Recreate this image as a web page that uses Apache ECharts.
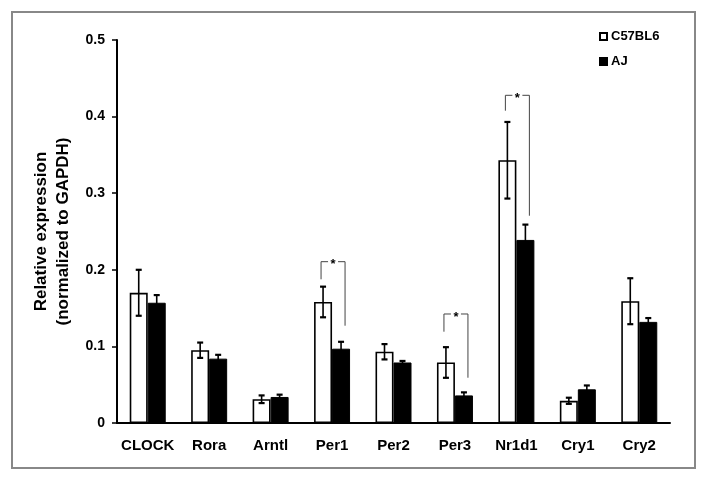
<!DOCTYPE html>
<html>
<head>
<meta charset="utf-8">
<script src="https://cdn.jsdelivr.net/npm/echarts@6/dist/echarts.min.js"></script>
<style>html,body{margin:0;padding:0;background:#fff;}#c{width:709px;height:484px;}</style>
</head>
<body>
<div id="c"></div>
<script>
const categories = ['CLOCK', 'Rora', 'Arntl', 'Per1', 'Per2', 'Per3', 'Nr1d1', 'Cry1', 'Cry2'];
const seriesNames = ['C57BL6', 'AJ'];
const c57Values = [0.170, 0.095, 0.031, 0.158, 0.093, 0.079, 0.343, 0.029, 0.159];
const c57Errors = [0.030, 0.010, 0.005, 0.020, 0.010, 0.020, 0.050, 0.004, 0.030];
const ajValues = [0.157, 0.084, 0.034, 0.097, 0.079, 0.036, 0.239, 0.044, 0.132];
const ajErrors = [0.010, 0.005, 0.003, 0.009, 0.002, 0.004, 0.020, 0.005, 0.005];
const yTicks = [0, 0.1, 0.2, 0.3, 0.4, 0.5];
// significance brackets
const sigCategories = ['Per1', 'Per3', 'Nr1d1'];
const sigTop = [0.2106, 0.1423, 0.4278];
const sigLeftBottom = [0.1876, 0.1192, 0.4077];
const sigRightBottom = [0.127, 0.0591, 0.2706];
const sigLabels = ['*', '*', '*'];

const FONT = 'Liberation Sans, Arial, sans-serif';
const BAR_W = 18;

const chart = echarts.init(document.getElementById('c'));

function errRender(offsetSign) {
  return function (params, api) {
    const idx = api.value(0);
    const v = api.value(1), e = api.value(2);
    const top = api.coord([idx, v + e]);
    const bot = api.coord([idx, v - e]);
    const x = top[0] + offsetSign * BAR_W / 2;
    const cap = 3;
    const st = { stroke: '#000', lineWidth: 1.6 };
    return {
      type: 'group',
      children: [
        { type: 'line', shape: { x1: x, y1: top[1], x2: x, y2: bot[1] }, style: st },
        { type: 'line', shape: { x1: x - cap, y1: top[1], x2: x + cap, y2: top[1] }, style: { stroke: '#000', lineWidth: 2.2 } },
        { type: 'line', shape: { x1: x - cap, y1: bot[1], x2: x + cap, y2: bot[1] }, style: { stroke: '#000', lineWidth: 2.2 } }
      ]
    };
  };
}

function bracketRender(params, api) {
  const idx = api.value(0);
  const t = api.coord([idx, api.value(1)]);
  const lb = api.coord([idx, api.value(2)]);
  const rb = api.coord([idx, api.value(3)]);
  const xl = t[0] - 11, xr = t[0] + 13, xs = (xl + xr) / 2;
  const st = { stroke: '#444', lineWidth: 1, fill: null };
  return {
    type: 'group',
    children: [
      { type: 'polyline', shape: { points: [[xl, lb[1]], [xl, t[1]], [xs - 5, t[1]]] }, style: st },
      { type: 'polyline', shape: { points: [[xs + 5, t[1]], [xr, t[1]], [xr, rb[1]]] }, style: st },
      { type: 'text', x: xs, y: t[1] + 3, style: { text: sigLabels[params.dataIndex], fill: '#000', font: 'bold 13px ' + FONT, align: 'center', verticalAlign: 'middle' } }
    ]
  };
}

chart.setOption({
  animation: false,
  backgroundColor: '#fff',
  graphic: [{
    type: 'rect', shape: { x: 12, y: 12, width: 683, height: 456 },
    style: { fill: null, stroke: '#888', lineWidth: 2 }, silent: true, z: -1
  }],
  grid: { left: 117, right: 39, top: 40, bottom: 61, containLabel: false },
  legend: {
    data: seriesNames,
    orient: 'vertical',
    left: 594, top: 25,
    itemWidth: 7, itemHeight: 7, itemGap: 12,
    icon: 'rect',
    textStyle: { fontFamily: FONT, fontWeight: 'bold', fontSize: 13, color: '#000', padding: [0, 0, 0, -1] }
  },
  xAxis: {
    type: 'category',
    data: categories,
    axisLine: { lineStyle: { color: '#000', width: 2 } },
    axisTick: { length: 5, lineStyle: { color: '#000', width: 1.5 } },
    axisLabel: { interval: 0, color: '#000', fontFamily: FONT, fontWeight: 'bold', fontSize: 15, margin: 15 },
    splitLine: { show: false }
  },
  yAxis: {
    type: 'value',
    min: yTicks[0], max: yTicks[yTicks.length - 1], interval: 0.1,
    name: 'Relative expression\n(normalized to GAPDH)',
    nameLocation: 'middle',
    nameGap: 43,
    nameTextStyle: { color: '#000', fontFamily: FONT, fontWeight: 'bold', fontSize: 17, lineHeight: 22 },
    axisLine: { show: true, lineStyle: { color: '#000', width: 2 } },
    axisTick: { show: true, length: 5, lineStyle: { color: '#000', width: 1.5 } },
    axisLabel: { color: '#000', fontFamily: FONT, fontWeight: 'bold', fontSize: 14, margin: 12,
      formatter: function (v) { const i = yTicks.findIndex(t => Math.abs(t - v) < 1e-9); return i >= 0 ? String(yTicks[i]) : ''; } },
    splitLine: { show: false }
  },
  series: [
    {
      name: seriesNames[0], type: 'bar', data: c57Values, barWidth: BAR_W, barGap: '0%',
      itemStyle: { color: '#fff', borderColor: '#000', borderWidth: 1.6 }
    },
    {
      name: seriesNames[1], type: 'bar', data: ajValues, barWidth: BAR_W, barGap: '0%',
      itemStyle: { color: '#000', borderColor: '#000', borderWidth: 1 }
    },
    {
      type: 'custom', z: 5,
      data: c57Values.map((v, i) => [i, v, c57Errors[i]]),
      renderItem: errRender(-1)
    },
    {
      type: 'custom', z: 5,
      data: ajValues.map((v, i) => [i, v, ajErrors[i]]),
      renderItem: errRender(1)
    },
    {
      type: 'custom', z: 6,
      data: sigCategories.map((c, i) => [categories.indexOf(c), sigTop[i], sigLeftBottom[i], sigRightBottom[i]]),
      renderItem: bracketRender
    }
  ]
});
</script>
</body>
</html>
